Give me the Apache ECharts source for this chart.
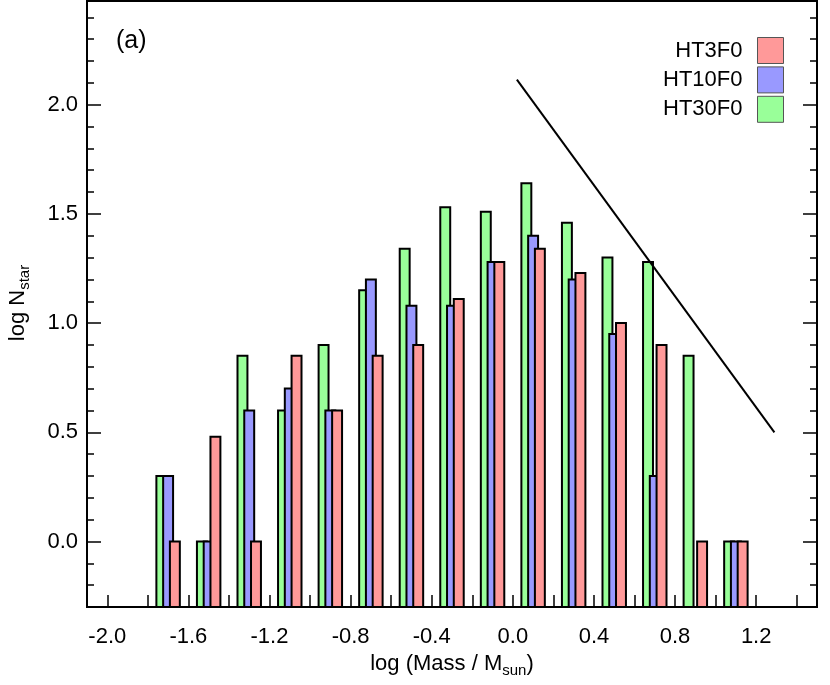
<!DOCTYPE html>
<html>
<head>
<meta charset="utf-8">
<script src="https://cdn.jsdelivr.net/npm/echarts@6/dist/echarts.min.js"></script>
<style>html,body{margin:0;padding:0;background:#fff}#c{width:830px;height:685px}</style>
</head>
<body>
<div id="c"></div>
<script>
// bin centres of log(Mass/Msun)
const binCenters = [-1.7, -1.5, -1.3, -1.1, -0.9, -0.7, -0.5, -0.3, -0.1, 0.1, 0.3, 0.5, 0.7, 0.9, 1.1];
// log N_star per bin
const ht30f0 = [0.30, 0.00, 0.85, 0.60, 0.90, 1.15, 1.34, 1.53, 1.51, 1.64, 1.46, 1.30, 1.28, 0.85, 0.00];
const ht10f0 = [0.30, 0.00, 0.60, 0.70, 0.60, 1.20, 1.08, 1.08, 1.28, 1.40, 1.20, 0.95, 0.30, null, 0.00];
const ht3f0  = [0.00, 0.48, 0.00, 0.85, 0.60, 0.85, 0.90, 1.11, 1.28, 1.34, 1.23, 1.00, 0.90, 0.00, 0.00];
// reference slope line
const slopeLine = [[0.02, 2.115], [1.29, 0.50]];
// axis ticks / labels
const xTicks = [-2.0,-1.8,-1.6,-1.4,-1.2,-1.0,-0.8,-0.6,-0.4,-0.2,0.0,0.2,0.4,0.6,0.8,1.0,1.2,1.4];
const xLabels = [-2.0,-1.6,-1.2,-0.8,-0.4,0.0,0.4,0.8,1.2];
const yMajor = [0.0, 0.5, 1.0, 1.5, 2.0];
const yMinor = [-0.2,-0.1,0.0,0.1,0.2,0.3,0.4,0.5,0.6,0.7,0.8,0.9,1.0,1.1,1.2,1.3,1.4,1.5,1.6,1.7,1.8,1.9,2.0,2.1,2.2,2.3,2.4];

const X_MIN = -2.1, X_MAX = 1.5, Y_MIN = -0.3, Y_MAX = 2.475;
const HALF_W = 0.0245, OFFSET = 1/30;
const FONT = 'Liberation Sans, Arial, Helvetica, sans-serif';

function makeBars(name, values, offset, color) {
  const data = [];
  binCenters.forEach((c, i) => { if (values[i] !== null) data.push([c + offset, values[i]]); });
  return {
    name, type: 'custom', xAxisIndex: 0, yAxisIndex: 0, data,
    itemStyle: { color },
    clip: true,
    renderItem: (params, api) => {
      const x = api.value(0), v = api.value(1);
      const p1 = api.coord([x - HALF_W, v]);
      const p2 = api.coord([x + HALF_W, Y_MIN]);
      return {
        type: 'rect',
        shape: { x: p1[0], y: p1[1], width: p2[0] - p1[0], height: p2[1] - p1[1] },
        style: { fill: color, stroke: '#000', lineWidth: 2 }
      };
    }
  };
}

const chart = echarts.init(document.getElementById('c'));
const axisLine = { show: true, onZero: false, lineStyle: { color: '#000', width: 2 } };
function yAxisDef(position, ticks, len, showLabel) {
  return {
    type: 'value', min: Y_MIN, max: Y_MAX, position,
    axisLine, splitLine: { show: false },
    axisTick: { show: true, inside: true, length: len, customValues: ticks, lineStyle: { color: '#000', width: 1.5 } },
    axisLabel: showLabel ? { show: true, customValues: yMajor, formatter: v => v.toFixed(1), fontSize: 22, color: '#000', fontFamily: FONT, margin: 9 } : { show: false }
  };
}
chart.setOption({
  animation: false,
  backgroundColor: '#fff',
  grid: { left: 87, right: 13, top: 1, bottom: 78, show: true, borderColor: '#000', borderWidth: 2 },
  xAxis: [{
    type: 'value', min: X_MIN, max: X_MAX,
    axisLine, splitLine: { show: false },
    axisTick: { show: true, inside: true, length: 12, customValues: xTicks, lineStyle: { color: '#000', width: 1.5 } },
    axisLabel: { show: true, customValues: xLabels, formatter: v => v.toFixed(1), fontSize: 22, color: '#000', fontFamily: FONT, margin: 19 }
  }],
  yAxis: [
    yAxisDef('left', yMajor, 14, true),
    yAxisDef('left', yMinor, 7, false),
    yAxisDef('right', yMajor, 14, false),
    yAxisDef('right', yMinor, 7, false)
  ],
  legend: {
    data: [
      { name: 'HT3F0', icon: 'rect', itemStyle: { color: '#ff9999', borderColor: '#555', borderWidth: 1 } },
      { name: 'HT10F0', icon: 'rect', itemStyle: { color: '#9999ff', borderColor: '#555', borderWidth: 1 } },
      { name: 'HT30F0', icon: 'rect', itemStyle: { color: '#99ff99', borderColor: '#555', borderWidth: 1 } }
    ],
    orient: 'vertical', align: 'right', right: 46, top: 37, padding: 0,
    itemWidth: 26, itemHeight: 26, itemGap: 2.4,
    textStyle: { fontSize: 22, color: '#000', fontFamily: FONT, padding: [0, 10, 0, 0] },
    selectedMode: false
  },
  graphic: [
    { type: 'text', left: 116, top: 29, style: { text: '(a)', font: '25px ' + FONT, fill: '#000' } },
    { type: 'text', x: 452, y: 664, style: {
        text: '{m|log (Mass / M}{s|sun}{m|)}', align: 'center', verticalAlign: 'middle',
        rich: { m: { fontSize: 22, fontFamily: FONT, color: '#000' },
                s: { fontSize: 15, fontFamily: FONT, color: '#000', padding: [14, 0, 0, 0] } } } },
    { type: 'text', x: 18, y: 303, rotation: Math.PI / 2, style: {
        text: '{m|log N}{s|star}', align: 'center', verticalAlign: 'middle',
        rich: { m: { fontSize: 22, fontFamily: FONT, color: '#000' },
                s: { fontSize: 15, fontFamily: FONT, color: '#000', padding: [14, 0, 0, 0] } } } }
  ],
  series: [
    makeBars('HT30F0', ht30f0, -OFFSET, '#99ff99'),
    makeBars('HT10F0', ht10f0, 0, '#9999ff'),
    makeBars('HT3F0', ht3f0, OFFSET, '#ff9999'),
    { name: 'slope', type: 'line', data: slopeLine, symbol: 'none', lineStyle: { color: '#000', width: 2 }, silent: true }
  ]
});
</script>
</body>
</html>
